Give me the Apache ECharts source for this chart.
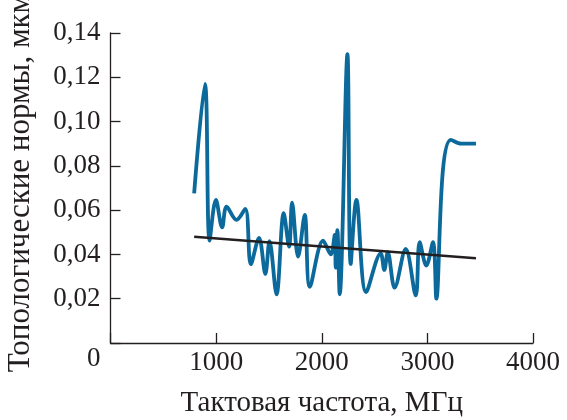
<!DOCTYPE html>
<html>
<head>
<meta charset="utf-8">
<script src="https://cdn.jsdelivr.net/npm/echarts@6/dist/echarts.min.js"></script>
<style>html,body{margin:0;padding:0;background:#fff;}#c{width:567px;height:420px;}</style>
</head>
<body>
<div id="c"></div>
<script>
var freq = [792, 894, 938, 998, 1057, 1099, 1193, 1276, 1329, 1406, 1466, 1505, 1572, 1640, 1691, 1719, 1776, 1839, 1887, 2013, 2085, 2123, 2132, 2148, 2170, 2243, 2274, 2328, 2420, 2558, 2592, 2625, 2690, 2795, 2890, 2927, 2990, 3053, 3085, 3147, 3222, 3321, 3460];
var norm = [0.0676, 0.117, 0.0462, 0.0646, 0.0522, 0.0616, 0.0556, 0.0606, 0.0356, 0.0475, 0.0312, 0.0460, 0.0220, 0.0586, 0.0435, 0.0634, 0.0390, 0.0578, 0.0254, 0.0462, 0.0400, 0.0488, 0.0340, 0.0510, 0.0220, 0.1305, 0.0357, 0.0646, 0.0230, 0.0405, 0.0330, 0.0410, 0.0250, 0.0425, 0.0215, 0.0455, 0.0350, 0.0455, 0.0200, 0.0780, 0.0917, 0.0900, 0.0900];
var trendX = [792, 3460];
var trendY = [0.048, 0.0383];
var xTicks = [0, 1000, 2000, 3000, 4000];
var yTicks = [0, 0.02, 0.04, 0.06, 0.08, 0.10, 0.12, 0.14];

var font = 'Liberation Serif';
var ink = '#231f20';
var chart = echarts.init(document.getElementById('c'), null, {renderer: 'canvas'});
chart.setOption({
  animation: false,
  backgroundColor: '#fff',
  grid: {left: 110.5, right: 34, top: 33, bottom: 77, containLabel: false, outerBoundsMode: 'none'},
  xAxis: {
    type: 'value', min: xTicks[0], max: xTicks[xTicks.length - 1], interval: 1000,
    name: 'Тактовая частота, МГц', nameLocation: 'middle', nameGap: 46,
    nameTextStyle: {fontFamily: font, fontSize: 29, color: ink},
    axisLine: {lineStyle: {color: ink, width: 1.3}},
    axisTick: {inside: true, length: 10, lineStyle: {color: ink, width: 1.3}},
    axisLabel: {fontFamily: font, fontSize: 27, color: ink, margin: 6,
      formatter: function (v) { return v === 0 ? '' : String(v); }},
    splitLine: {show: false}
  },
  yAxis: {
    type: 'value', min: yTicks[0], max: yTicks[yTicks.length - 1], interval: 0.02,
    name: 'Топологические нормы, мкм', nameLocation: 'middle', nameGap: 74,
    nameTextStyle: {fontFamily: font, fontSize: 31, color: ink, padding: [0, 0, 0, 10]},
    axisLine: {lineStyle: {color: ink, width: 1.3}},
    axisTick: {inside: true, length: 10, lineStyle: {color: ink, width: 1.3}},
    axisLabel: {fontFamily: font, fontSize: 27, color: ink, margin: 10,
      formatter: function (v) { return v === 0 ? '{z|0}' : v.toFixed(2).replace('.', ','); },
      rich: {z: {fontFamily: font, fontSize: 27, color: ink, padding: [31, 0, 0, 0]}}},
    splitLine: {show: false}
  },
  series: [
    {
      type: 'line', smooth: 0.35, symbol: 'none',
      data: freq.map(function (x, i) { return [x, norm[i]]; }),
      lineStyle: {color: '#0b6a9b', width: 3.8}
    },
    {
      type: 'line', symbol: 'none',
      data: trendX.map(function (x, i) { return [x, trendY[i]]; }),
      lineStyle: {color: ink, width: 2.4}
    }
  ]
});
</script>
</body>
</html>
